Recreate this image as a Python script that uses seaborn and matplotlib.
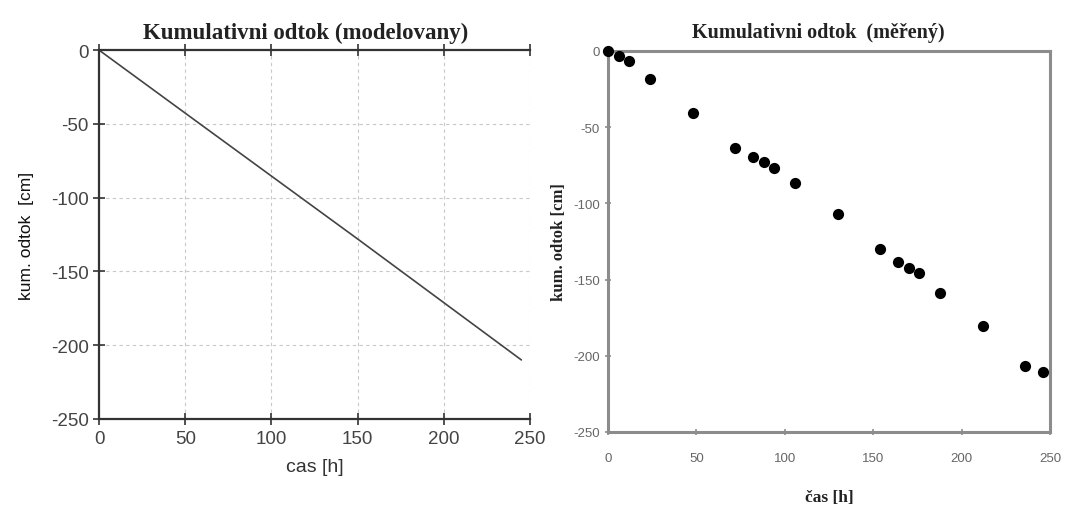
import matplotlib
matplotlib.use("Agg")
import matplotlib.pyplot as plt
import seaborn as sns
import pandas as pd

# modelled cumulative outflow (line)
model_time = [0, 55, 150, 245]
model_outflow = [0, -47, -128, -210]

# measured cumulative outflow (points)
meas_time = [0, 6, 12, 24, 48, 72, 82, 88, 94, 106, 130, 154, 164, 170, 176, 188, 212, 236, 246]
meas_outflow = [0, -3, -6.5, -18.5, -40.5, -63.5, -69.5, -73, -76.5, -86.5, -107, -130,
                -138.5, -142.5, -146, -159, -180.5, -206.5, -210.5]

x_ticks = [0, 50, 100, 150, 200, 250]
y_ticks = [0, -50, -100, -150, -200, -250]

sns.set_theme(style="white")
plt.rcParams['font.family'] = ['Liberation Sans', 'DejaVu Sans']
plt.rcParams['axes.unicode_minus'] = False

fig = plt.figure(figsize=(10.79, 5.06), dpi=100)
ax1 = fig.add_axes([0.0918, 0.170, 0.3994, 0.729])
ax2 = fig.add_axes([0.5635, 0.1443, 0.4096, 0.753])

# ---- left panel
df_m = pd.DataFrame({"t": model_time, "q": model_outflow})
sns.lineplot(data=df_m, x="t", y="q", ax=ax1, color="#444444", linewidth=1.2)
ax1.set_xlim(0, 250)
ax1.set_ylim(-250, 0)
ax1.set_xticks(x_ticks)
ax1.set_yticks(y_ticks)
ax1.grid(True, color="#c8c8c8", linestyle=(0, (3, 3)), linewidth=0.8)
for s in ["top", "bottom", "left"]:
    ax1.spines[s].set_visible(True)
    ax1.spines[s].set_color("#333333")
    ax1.spines[s].set_linewidth(1.6)
ax1.spines["right"].set_visible(False)
ax1.tick_params(axis="both", direction="inout", length=8, width=1.2, colors="#333333",
                labelsize=13.5, labelcolor="#444444", top=True, bottom=True, left=True)
ax1.tick_params(axis="x", labeltop=False, pad=4)
ax1.set_xlabel("cas [h]", fontsize=14, color="#333333", labelpad=8)
ax1.set_ylabel("kum. odtok  [cm]", fontsize=12.5, color="#111111", labelpad=12)
ax1.set_title("Kumulativni odtok (modelovany)", fontsize=16.5, fontweight="bold",
              family="Liberation Serif", color="#222222", pad=9, x=0.48)

# ---- right panel
df_o = pd.DataFrame({"t": meas_time, "q": meas_outflow})
sns.scatterplot(data=df_o, x="t", y="q", ax=ax2, color="black", s=65,
                edgecolor="black", linewidth=0, clip_on=False, zorder=5)
ax2.set_xlim(0, 250)
ax2.set_ylim(-250, 0)
ax2.set_xticks(x_ticks)
ax2.set_yticks(y_ticks)
ax2.grid(False)
for s in ax2.spines.values():
    s.set_visible(True)
    s.set_color("#8c8c8c")
    s.set_linewidth(2.2)
ax2.tick_params(axis="both", direction="inout", length=5, width=1.2, colors="#8c8c8c",
                labelsize=9.5, labelcolor="#666666", bottom=True, left=True)
ax2.tick_params(axis="x", pad=12)
ax2.set_xlabel("čas [h]", fontsize=12.5, fontweight="bold", family="Liberation Serif",
               color="#222222", labelpad=18)
ax2.set_ylabel("kum. odtok [cm]", fontsize=12, fontweight="bold", family="Liberation Serif",
               color="#222222", labelpad=4)
ax2.set_title("Kumulativni odtok  (měřený)", fontsize=14.5, fontweight="bold",
              family="Liberation Serif", color="#222222", pad=10, x=0.475)

fig.savefig("out.png", dpi=100)
